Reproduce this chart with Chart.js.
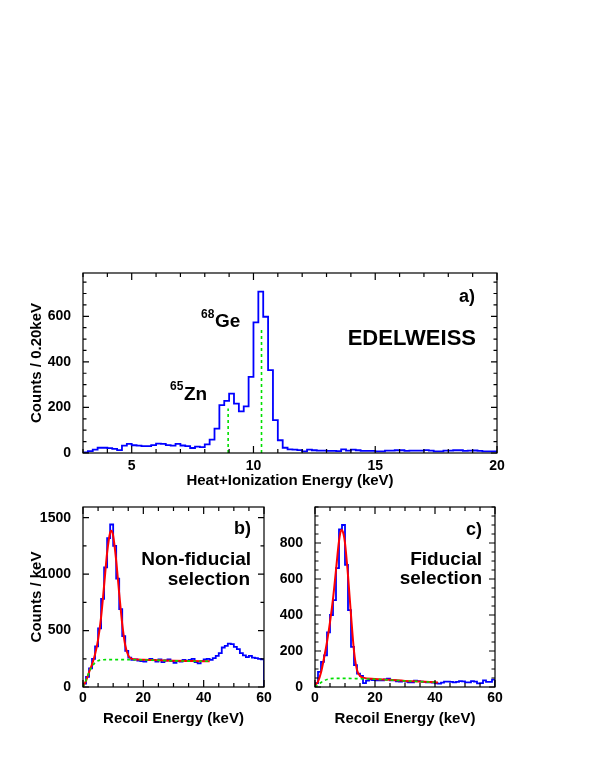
<!DOCTYPE html>
<html>
<head>
<meta charset="utf-8">
<script src="https://cdn.jsdelivr.net/npm/chart.js@4.4.1/dist/chart.umd.min.js"></script>
<style>
  html, body { margin: 0; padding: 0; background: #fff; }
  #wrap { position: relative; width: 595px; height: 770px; }
  canvas { position: absolute; left: 0; top: 0; }
</style>
</head>
<body>
<div id="wrap">
  <canvas id="chartA" width="595" height="770"></canvas>
  <canvas id="chartB" width="595" height="770"></canvas>
  <canvas id="chartC" width="595" height="770"></canvas>
</div>
<script>
// a) heat+ionization spectrum, 0.2 keV bins from 3 keV
const aBinStart = 3.0;
const aBinWidth = 0.2;
const aCounts = [3, 8, 15, 23, 23, 21, 18, 13, 32, 40,
  34, 32, 30, 30, 35, 41, 40, 35, 32, 40,
  33, 30, 22, 28, 26,
  38, 59, 107, 210, 229, 261, 217, 183, 205, 334, 573, 708, 598, 364, 144, 56,
  23, 16, 15, 13, 7, 15, 12, 10, 10, 9,
  9, 8, 16, 10, 15, 12, 9, 9, 9, 7,
  7, 10, 10, 12, 12, 9, 10, 10, 10, 13,
  10, 7, 7, 10, 10, 12, 12, 9, 10, 11,
  9, 7, 7, 7];
const aLineEnergy = [8.96, 10.33];   // 65Zn, 68Ge
const aLineHeight = [195, 551];
const aXTicks = [5, 10, 15, 20];
const aYTicks = [0, 200, 400, 600];

// b) non-fiducial recoil spectrum, 1 keV bins
const bBinStart = 0;
const bBinWidth = 1;
const bCounts = [30, 90, 165, 250, 360, 520, 780, 1060, 1320, 1440,
  1250, 960, 690, 450, 320, 260, 240, 245, 235, 230,
  225, 240, 250, 240, 225, 245, 220, 235, 245, 230,
  215, 230, 225, 240, 230, 240, 250, 220, 210, 230,
  245, 250, 240, 255, 275, 300, 350, 365, 385, 380,
  355, 335, 300, 280, 265, 275, 260, 255, 250, 245];
const bFitX = [0, 1, 2, 3, 4, 5, 6, 7, 8, 9, 9.4, 10, 11, 12, 13, 14, 15, 16, 18, 20, 25, 30, 35, 40, 42];
const bFitY = [5, 55, 130, 200, 290, 420, 620, 900, 1190, 1370, 1385, 1340, 1120, 830, 560, 370, 280, 252, 244, 242, 238, 233, 230, 228, 228];
const bBkgX = [0, 1, 2, 3, 4, 5, 6, 8, 12, 20, 30, 40, 42];
const bBkgY = [0, 60, 130, 180, 215, 232, 240, 243, 243, 240, 232, 228, 228];

// c) fiducial recoil spectrum, 1 keV bins
const cBinStart = 0;
const cBinWidth = 1;
const cCounts = [22, 84, 140, 176, 303, 400, 483, 660, 876, 900,
  678, 427, 223, 121, 74, 62, 22, 35, 41, 38,
  37, 37, 37, 42, 46, 37, 37, 32, 30, 33,
  30, 26, 26, 35, 33, 30, 28, 26, 26, 24,
  20, 19, 24, 30, 30, 28, 26, 28, 33, 31,
  26, 26, 33, 30, 20, 22, 37, 28, 28, 41];
const cFitX = [0, 1, 2, 3, 4, 5, 6, 7, 8, 8.8, 9.5, 10, 11, 12, 13, 14, 15, 16, 20, 25, 30, 35, 40, 41];
const cFitY = [10, 30, 80, 160, 250, 360, 490, 650, 810, 873, 850, 800, 620, 400, 200, 95, 62, 52, 45, 40, 34, 30, 26, 25];
const cBkgX = [0, 1, 2, 3, 4, 5, 7, 10, 15, 20, 25, 30, 35, 40, 41];
const cBkgY = [0, 12, 25, 35, 42, 46, 48, 48, 46, 43, 39, 34, 30, 26, 25];

const recoilXTicks = [0, 20, 40, 60];
const bYTicks = [0, 500, 1000, 1500];
const cYTicks = [0, 200, 400, 600, 800];

const FONT = '"Liberation Sans", Arial, Helvetica, sans-serif';
const tickFont = { family: FONT, size: 14, weight: 'bold' };
const titleFont = { family: FONT, size: 15, weight: 'bold' };
const BLUE = '#0000ff', RED = '#ff0000', GREEN = '#00e000';

function histPoints(start, width, counts) {
  const pts = [{ x: start, y: 0 }];
  counts.forEach((c, i) => pts.push({ x: start + i * width, y: c }));
  const end = start + counts.length * width;
  pts.push({ x: end, y: counts[counts.length - 1] });
  pts.push({ x: end, y: 0 });
  return pts;
}

function xy(xs, ys) {
  return xs.map((x, i) => ({ x: x, y: ys[i] }));
}

function histSet(points) {
  return { data: points, borderColor: BLUE, borderWidth: 1.8, stepped: true, pointRadius: 0, fill: false, order: 2 };
}
function fitSet(points) {
  return { data: points, borderColor: RED, borderWidth: 2, tension: 0.4, cubicInterpolationMode: 'monotone', pointRadius: 0, fill: false, order: 1 };
}
function bkgSet(points) {
  return { data: points, borderColor: GREEN, borderWidth: 1.6, borderDash: [3, 3], tension: 0.4, cubicInterpolationMode: 'monotone', pointRadius: 0, fill: false, order: 0 };
}

// frame + inside ticks on all four sides (ROOT look)
const frameTicks = {
  id: 'frameTicks',
  afterDatasetsDraw(chart, args, opts) {
    const { ctx, chartArea: { left, right, top, bottom }, scales: { x, y } } = chart;
    ctx.save();
    ctx.strokeStyle = '#000';
    ctx.lineWidth = 1.2;
    ctx.strokeRect(left, top, right - left, bottom - top);
    ctx.beginPath();
    for (let v = Math.ceil(x.min / opts.xMinor) * opts.xMinor; v <= x.max + 1e-9; v += opts.xMinor) {
      const px = x.getPixelForValue(v);
      const len = opts.xMajor.includes(v) ? 7 : 4;
      ctx.moveTo(px, bottom); ctx.lineTo(px, bottom - len);
      ctx.moveTo(px, top); ctx.lineTo(px, top + len);
    }
    for (let v = Math.ceil(y.min / opts.yMinor) * opts.yMinor; v <= y.max + 1e-9; v += opts.yMinor) {
      const py = y.getPixelForValue(v);
      const len = opts.yMajor.includes(v) ? 6 : 3.5;
      ctx.moveTo(left, py); ctx.lineTo(left + len, py);
      ctx.moveTo(right, py); ctx.lineTo(right - len, py);
    }
    ctx.stroke();
    ctx.restore();
  }
};

const panelText = {
  id: 'panelText',
  afterDraw(chart, args, opts) {
    const ctx = chart.ctx;
    ctx.save();
    ctx.fillStyle = '#000';
    ctx.textBaseline = 'alphabetic';
    opts.items.forEach(it => {
      ctx.font = 'bold ' + it.size + 'px ' + FONT;
      ctx.textAlign = it.align || 'left';
      ctx.fillText(it.t, it.x, it.y);
    });
    ctx.restore();
  }
};

function panel(id, p) {
  return new Chart(document.getElementById(id), {
    type: 'line',
    data: { datasets: p.datasets },
    options: {
      responsive: false,
      animation: false,
      devicePixelRatio: 1,
      events: [],
      layout: { padding: p.pad },
      plugins: {
        legend: { display: false },
        tooltip: { enabled: false },
        frameTicks: { xMinor: p.xMinor, yMinor: p.yMinor, xMajor: p.xTicks, yMajor: p.yTicks },
        panelText: { items: p.texts }
      },
      scales: {
        x: {
          type: 'linear', min: p.xMin, max: p.xMax,
          grid: { display: false, drawTicks: false }, border: { display: false },
          afterFit: s => { s.height = 47; s.paddingLeft = 0; s.paddingRight = 0; },
          afterBuildTicks: s => { s.ticks = p.xTicks.map(v => ({ value: v })); },
          ticks: { font: tickFont, color: '#000', padding: p.xLabelPad, autoSkip: false, maxRotation: 0, callback: v => String(v) },
          title: { display: true, text: p.xTitle, font: titleFont, color: '#000', padding: { top: 0, bottom: p.xTitlePad } }
        },
        y: {
          type: 'linear', min: 0, max: p.yMax,
          grid: { display: false, drawTicks: false }, border: { display: false },
          afterFit: s => { s.width = p.yWidth; s.paddingTop = 0; s.paddingBottom = 0; },
          afterBuildTicks: s => { s.ticks = p.yTicks.map(v => ({ value: v })); },
          ticks: { font: tickFont, color: '#000', padding: 12, autoSkip: false, callback: v => String(v) },
          title: { display: !!p.yTitle, text: p.yTitle || '', font: titleFont, color: '#000', padding: { top: 8, bottom: 0 } }
        }
      }
    },
    plugins: [frameTicks, panelText]
  });
}

const lineSets = aLineEnergy.map((e, i) => ({
  data: [{ x: e, y: 0 }, { x: e, y: aLineHeight[i] }],
  borderColor: GREEN, borderWidth: 1.6, borderDash: [3, 3], pointRadius: 0, fill: false, order: 0
}));

panel('chartA', {
  pad: { left: 20, right: 98, top: 273, bottom: 270 },
  yWidth: 63,
  xMin: 3, xMax: 20, yMax: 790,
  xTicks: aXTicks, yTicks: aYTicks, xMinor: 1, yMinor: 50,
  xLabelPad: 5, xTitlePad: 10,
  xTitle: 'Heat+Ionization Energy (keV)',
  yTitle: 'Counts / 0.20keV',
  datasets: [...lineSets, histSet(histPoints(aBinStart, aBinWidth, aCounts))],
  texts: [
    { t: 'a)', x: 475, y: 302, size: 18, align: 'right' },
    { t: 'EDELWEISS', x: 476, y: 345, size: 22, align: 'right' },
    { t: '68', x: 201, y: 318, size: 12 },
    { t: 'Ge', x: 215, y: 327, size: 19 },
    { t: '65', x: 170, y: 390, size: 12 },
    { t: 'Zn', x: 184, y: 400, size: 19 }
  ]
});

panel('chartB', {
  pad: { left: 20, right: 331, top: 507, bottom: 36 },
  yWidth: 63,
  xMin: 0, xMax: 60, yMax: 1595,
  xTicks: recoilXTicks, yTicks: bYTicks, xMinor: 5, yMinor: 250,
  xLabelPad: 3, xTitlePad: 6,
  xTitle: 'Recoil Energy (keV)',
  yTitle: 'Counts / keV',
  datasets: [bkgSet(xy(bBkgX, bBkgY)), fitSet(xy(bFitX, bFitY)), histSet(histPoints(bBinStart, bBinWidth, bCounts))],
  texts: [
    { t: 'b)', x: 251, y: 534, size: 18, align: 'right' },
    { t: 'Non-fiducial', x: 251, y: 565, size: 19, align: 'right' },
    { t: 'selection', x: 250, y: 585, size: 19, align: 'right' }
  ]
});

panel('chartC', {
  pad: { left: 255, right: 100, top: 507, bottom: 36 },
  yWidth: 60,
  xMin: 0, xMax: 60, yMax: 1000,
  xTicks: recoilXTicks, yTicks: cYTicks, xMinor: 5, yMinor: 50,
  xLabelPad: 3, xTitlePad: 6,
  xTitle: 'Recoil Energy (keV)',
  yTitle: null,
  datasets: [bkgSet(xy(cBkgX, cBkgY)), fitSet(xy(cFitX, cFitY)), histSet(histPoints(cBinStart, cBinWidth, cCounts))],
  texts: [
    { t: 'c)', x: 482, y: 535, size: 18, align: 'right' },
    { t: 'Fiducial', x: 482, y: 565, size: 19, align: 'right' },
    { t: 'selection', x: 482, y: 584, size: 19, align: 'right' }
  ]
});
</script>
</body>
</html>
